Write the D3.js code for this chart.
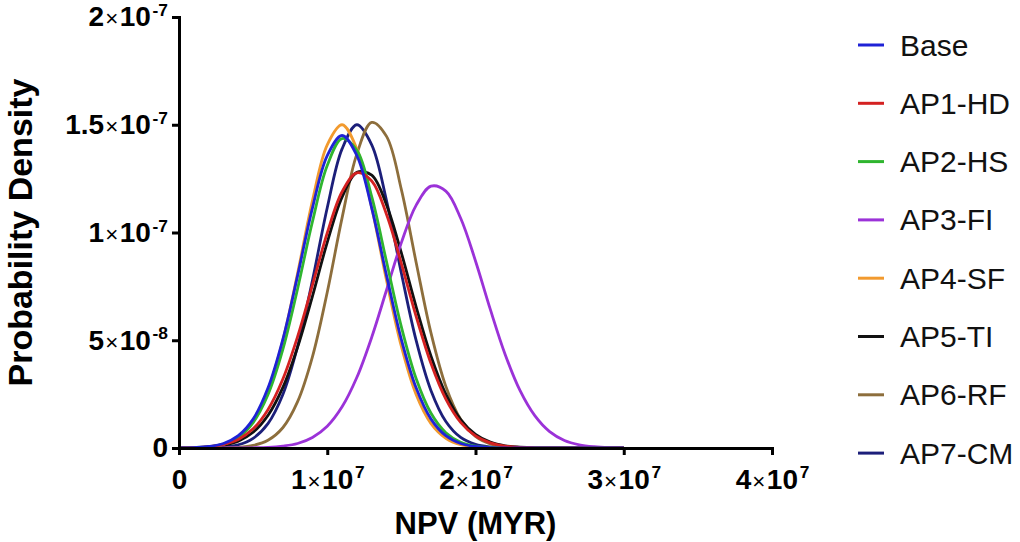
<!DOCTYPE html>
<html>
<head>
<meta charset="utf-8">
<script src="https://cdn.jsdelivr.net/npm/d3@7"></script>
<style>
  body { margin: 0; background: #fff; }
  svg { display: block; font-family: "Liberation Sans", Arial, Helvetica, sans-serif; }
</style>
</head>
<body>
<div id="chart"></div>
<script>
// NPV grid (millions of MYR)
var npv = [0,1,2,3,4,5,6,7,8,9,10,11,12,13,14,15,16,17,18,19,20,21,22,23,24,25,26,27,28,29,30];

// probability densities, in units of 1e-8
var base  = [0,0.02,0.07,0.21,0.57,1.34,2.78,5.03,8.00,11.13,13.57,14.50,13.57,11.13,8.00,5.03,2.78,1.34,0.57,0.21,0.07,0.02,0,0,0,0,0,0,0,0,0];
var ap1HD = [0.01,0.02,0.06,0.17,0.40,0.89,1.78,3.19,5.17,7.56,9.98,11.89,12.77,12.39,10.84,8.56,6.10,3.92,2.27,1.19,0.56,0.24,0.09,0.03,0.01,0,0,0,0,0,0];
var ap2HS = [0,0.02,0.06,0.18,0.49,1.18,2.47,4.56,7.39,10.50,13.11,14.36,13.81,11.66,8.64,5.62,3.21,1.61,0.71,0.27,0.09,0.03,0.01,0,0,0,0,0,0,0,0];
var ap3FI = [0,0,0,0,0,0.01,0.03,0.09,0.21,0.49,1.01,1.91,3.28,5.14,7.33,9.53,11.27,12.15,11.92,10.66,8.68,6.43,4.34,2.67,1.50,0.76,0.35,0.15,0.06,0.02,0.01];
var ap4SF = [0,0.01,0.05,0.17,0.49,1.23,2.66,4.98,8.11,11.47,14.07,15.00,13.88,11.15,7.77,4.71,2.47,1.13,0.45,0.15,0.05,0.01,0,0,0,0,0,0,0,0,0];
var ap5TI = [0,0.01,0.04,0.13,0.32,0.73,1.51,2.80,4.68,7.04,9.54,11.64,12.79,12.66,11.28,9.05,6.54,4.26,2.50,1.32,0.63,0.27,0.10,0.04,0.01,0,0,0,0,0,0];
var ap6RF = [0,0,0,0.01,0.03,0.12,0.36,0.94,2.15,4.23,7.23,10.68,13.65,15.11,14.46,11.99,8.60,5.33,2.86,1.33,0.54,0.19,0.06,0.01,0,0,0,0,0,0,0];
var ap7CM = [0,0,0.01,0.05,0.15,0.45,1.13,2.47,4.71,7.77,11.15,13.88,15.00,14.07,11.47,8.11,4.98,2.66,1.23,0.49,0.17,0.05,0.01,0,0,0,0,0,0,0,0];

var seriesNames = ["Base", "AP1-HD", "AP2-HS", "AP3-FI", "AP4-SF", "AP5-TI", "AP6-RF", "AP7-CM"];
var seriesValues = [base, ap1HD, ap2HS, ap3FI, ap4SF, ap5TI, ap6RF, ap7CM];
var seriesColors = ["#1f22d6", "#d42121", "#2fb52f", "#9b32d8", "#f29a2e", "#111111", "#8d6e3c", "#1c1f7a"];

// ticks
var xTicks = [0, 1e7, 2e7, 3e7, 4e7];
var xTickMant = ["0", "1", "2", "3", "4"];
var xTickExp = [null, "7", "7", "7", "7"];
var yTicks = [0, 5e-8, 1e-7, 1.5e-7, 2e-7];
var yTickMant = ["0", "5", "1", "1.5", "2"];
var yTickExp = [null, "-8", "-7", "-7", "-7"];

var W = 1020, H = 542;
var margin = { top: 17, left: 179 },
    width = 593,
    height = 431;

var svg = d3.select("#chart").append("svg")
    .attr("width", W)
    .attr("height", H);

var g = svg.append("g")
    .attr("transform", "translate(" + margin.left + "," + margin.top + ")");

var x = d3.scaleLinear().domain([0, 4e7]).range([0, width]);
var y = d3.scaleLinear().domain([0, 2e-7]).range([height, 0]);

function sciLabel(text, mant, exp) {
    text.text(null);
    text.append("tspan").text(mant);
    if (exp === null) return;
    text.append("tspan").attr("font-weight", "normal").attr("font-size", "0.8em").attr("dx", "0.05em").text("\u00d7");
    text.append("tspan").attr("dx", "0.05em").text("10");
    text.append("tspan").attr("font-size", "0.62em").attr("dy", "-0.6em").attr("dx", "0.1em").text(exp);
}

// curves (drawn last-to-first so Base ends on top)
var line = d3.line()
    .curve(d3.curveCatmullRom.alpha(0.5))
    .x(function(d, i) { return x(npv[i] * 1e6); })
    .y(function(d) { return y(d * 1e-8); });

for (var s = seriesValues.length - 1; s >= 0; s--) {
    g.append("path")
        .datum(seriesValues[s])
        .attr("fill", "none")
        .attr("stroke", seriesColors[s])
        .attr("stroke-width", 2.8)
        .attr("stroke-linejoin", "round")
        .attr("d", line);
}

// axes
var yAxis = g.append("g")
    .call(d3.axisLeft(y).tickValues(yTicks).tickSize(7).tickPadding(4).tickSizeOuter(0));
var xAxis = g.append("g")
    .attr("transform", "translate(0," + height + ")")
    .call(d3.axisBottom(x).tickValues(xTicks).tickSize(7).tickPadding(14).tickSizeOuter(0));

[yAxis, xAxis].forEach(function(ax) {
    ax.select(".domain").attr("stroke", "#000").attr("stroke-width", 3).attr("stroke-linecap", "square");
    ax.selectAll(".tick line").attr("stroke", "#000").attr("stroke-width", 3);
    ax.selectAll(".tick text")
        .attr("fill", "#000")
        .attr("font-family", "'Liberation Sans', Arial, sans-serif")
        .attr("font-size", 28)
        .attr("font-weight", "bold");
});

yAxis.selectAll(".tick text").each(function(d, i) {
    sciLabel(d3.select(this), yTickMant[i], yTickExp[i]);
});
xAxis.selectAll(".tick text").each(function(d, i) {
    sciLabel(d3.select(this), xTickMant[i], xTickExp[i]);
});

// axis titles
svg.append("text")
    .attr("x", margin.left + x(2e7))
    .attr("y", 534)
    .attr("text-anchor", "middle")
    .attr("font-size", 31)
    .attr("font-weight", "bold")
    .text("NPV (MYR)");

svg.append("text")
    .attr("transform", "translate(32," + (margin.top + height / 2) + ") rotate(-90)")
    .attr("text-anchor", "middle")
    .attr("font-size", 34)
    .attr("font-weight", "bold")
    .text("Probability Density");

// legend
var legend = svg.append("g").attr("transform", "translate(858,45)");
seriesNames.forEach(function(name, i) {
    var row = legend.append("g").attr("transform", "translate(0," + (i * 58.3) + ")");
    row.append("line")
        .attr("x1", 0).attr("x2", 26)
        .attr("stroke", seriesColors[i])
        .attr("stroke-width", 3);
    row.append("text")
        .attr("x", 42)
        .attr("dy", "0.35em")
        .attr("font-size", 30)
        .attr("fill", "#111")
        .text(name);
});
</script>
</body>
</html>
